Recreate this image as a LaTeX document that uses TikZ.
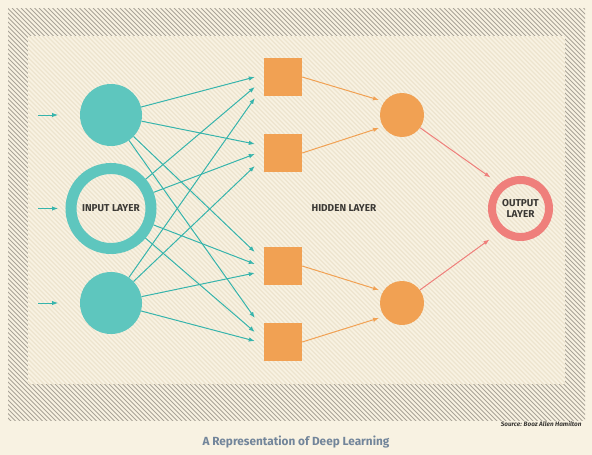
\documentclass[tikz,border=0pt]{standalone}
\usepackage{fontspec}
\setmainfont{Fira Sans}
\usetikzlibrary{arrows.meta,calc}
\definecolor{bg}{HTML}{F8F2E2}
\definecolor{faintline}{HTML}{EDE4CF}
\definecolor{hatchline}{HTML}{A9A397}
\definecolor{tealc}{HTML}{5EC6BE}
\definecolor{tealline}{HTML}{36B4AC}
\definecolor{orangec}{HTML}{F1A153}
\definecolor{salmon}{HTML}{EF7F7B}
\definecolor{textc}{HTML}{3B3935}
\definecolor{titlec}{HTML}{72859A}
\tikzset{
  incirc/.style={circle,fill=tealc,minimum size=62pt,inner sep=0pt},
  inring/.style={circle,draw=tealc,line width=11pt,minimum size=80pt,inner sep=0pt},
  sqbox/.style={rectangle,fill=orangec,minimum size=38pt,inner sep=0pt},
  hidcirc/.style={circle,fill=orangec,minimum size=44pt,inner sep=0pt},
  outring/.style={circle,draw=salmon,line width=8pt,minimum size=57pt,inner sep=0pt},
  lbl/.style={font=\bfseries\fontsize{10}{11.5}\selectfont,text=textc,align=center},
  tarrow/.style={draw=tealline,line width=1pt,-{Latex[length=6pt,width=4.5pt]}},
  oarrow/.style={draw=orangec,line width=1pt,-{Latex[length=6pt,width=4.5pt]}},
  sarrow/.style={draw=salmon,line width=1pt,-{Latex[length=6pt,width=4.5pt]}},
  hatch/.style={draw=hatchline,line width=0.75pt},
  faint/.style={draw=faintline,line width=1.2pt}
}
\begin{document}
\begin{tikzpicture}[x=1pt,y=-1pt]
\useasboundingbox (0,0) rectangle (592,455);
\fill[bg] (0,0) rectangle (592,455);
% hatched border band
\begin{scope}
  \clip (8,8) rectangle (585,420);
  \foreach \i in {-420,-415.5,...,590} \draw[hatch] (\i,8) -- ++(414,414);
\end{scope}
\fill[bg] (28,36) rectangle (565,384);
% faint hatching inside frame
\begin{scope}
  \clip (28,36) rectangle (565,384);
  \foreach \i in {-400,-395.5,...,580} \draw[faint] (\i,30) -- ++(360,360);
\end{scope}

% input layer
\node[incirc] (i1) at (111,115) {};
\node[inring,lbl] (i2) at (111,208.5) {INPUT LAYER};
\node[incirc] (i3) at (111,303) {};

% input arrows
\coordinate (a1s) at (38,115); \coordinate (a1e) at (58,115);
\coordinate (a2s) at (38,208.5); \coordinate (a2e) at (58,208.5);
\coordinate (a3s) at (38,303); \coordinate (a3e) at (58,303);
\draw[tarrow] (a1s) -- (a1e);
\draw[tarrow] (a2s) -- (a2e);
\draw[tarrow] (a3s) -- (a3e);

% hidden squares
\node[sqbox] (h1) at (283,77) {};
\node[sqbox] (h2) at (283,153) {};
\node[sqbox] (h3) at (283,266) {};
\node[sqbox] (h4) at (283,342) {};

% arrow tips near squares
\coordinate (t11) at ($(h1.west)+(-9,0)$);
\coordinate (t21) at ($(h1.west)+(-9,10)$);
\coordinate (t31) at ($(h1.west)+(-9,21)$);
\coordinate (t12) at ($(h2.west)+(-9,-9)$);
\coordinate (t22) at ($(h2.west)+(-9,1)$);
\coordinate (t32) at ($(h2.west)+(-9,13)$);
\coordinate (t13) at ($(h3.west)+(-9,-14)$);
\coordinate (t23) at ($(h3.west)+(-9,-2)$);
\coordinate (t33) at ($(h3.west)+(-9,7)$);
\coordinate (t14) at ($(h4.west)+(-9,-24)$);
\coordinate (t24) at ($(h4.west)+(-9,-10)$);
\coordinate (t34) at ($(h4.west)+(-9,-1)$);
\foreach \s in {1,2,3}{
  \foreach \t in {1,2,3,4}{
    \draw[tarrow] (i\s) -- (t\s\t);
  }
}

% hidden circles
\node[hidcirc] (o1) at (402,115) {};
\node[hidcirc] (o2) at (402,303) {};
\coordinate (u1) at ($(o1)+(-23,-15)$);
\coordinate (u2) at ($(o1)+(-23,13)$);
\coordinate (u3) at ($(o2)+(-23,-13)$);
\coordinate (u4) at ($(o2)+(-23,15)$);
\draw[oarrow] (h1.east) -- (u1);
\draw[oarrow] (h2.east) -- (u2);
\draw[oarrow] (h3.east) -- (u3);
\draw[oarrow] (h4.east) -- (u4);

% output
\node[outring,lbl] (out) at (520.5,208.5) {OUTPUT\\LAYER};
\coordinate (v1) at ($(out)+(-30,-31)$);
\coordinate (v2) at ($(out)+(-31,31)$);
\draw[sarrow] (o1) -- (v1);
\draw[sarrow] (o2) -- (v2);

% labels
\node[lbl] (hl) at (344,208.5) {HIDDEN LAYER};
\node[anchor=east,font=\bfseries\itshape\fontsize{6.4}{7}\selectfont,text=textc] (src) at (585,424) {Source: Booz Allen Hamilton};
\node[font=\bfseries\fontsize{11.8}{13}\selectfont,text=titlec] (title) at (296,442) {A Representation of Deep Learning};
\end{tikzpicture}
\end{document}
